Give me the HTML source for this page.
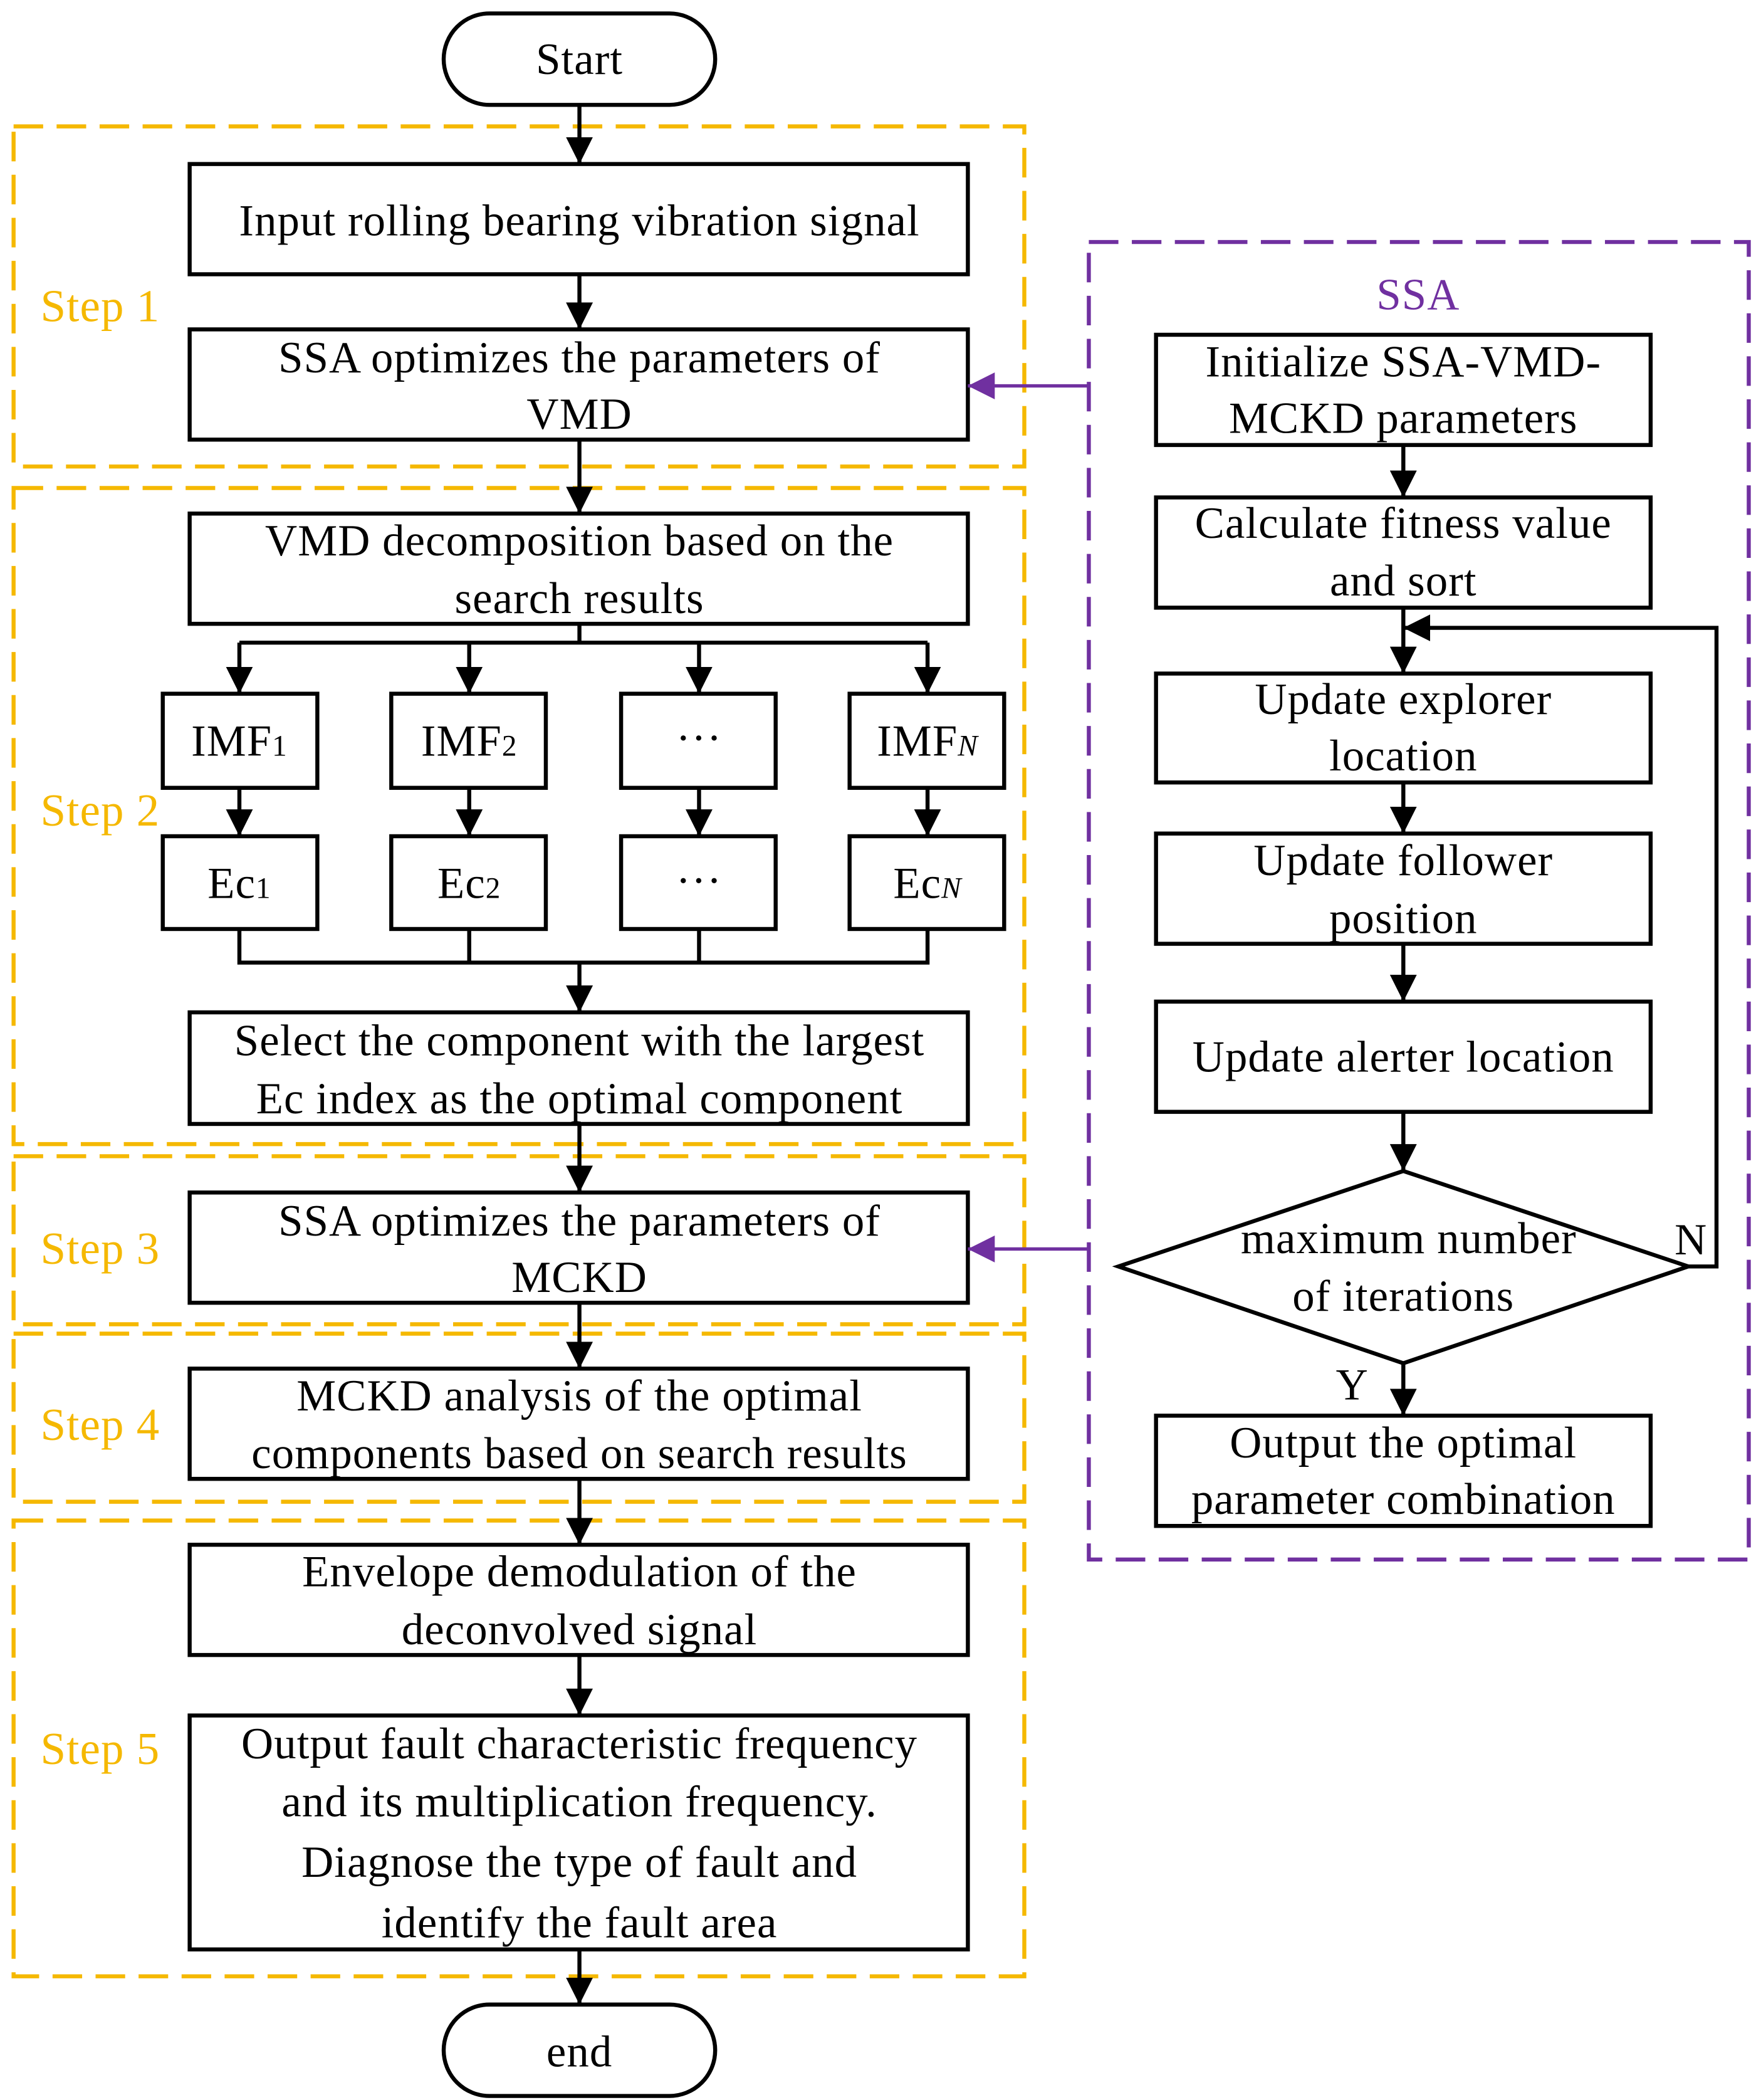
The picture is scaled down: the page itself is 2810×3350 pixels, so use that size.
<!DOCTYPE html>
<html><head><meta charset="utf-8"><style>html,body{margin:0;padding:0;background:#fff}svg{display:block}</style></head><body>
<svg xmlns="http://www.w3.org/2000/svg" width="2810" height="3350" viewBox="0 0 1310 1562" font-family="Liberation Serif, serif" font-size="33" letter-spacing="0.5">
<defs>
<marker id="ab" viewBox="0 0 10 10" markerWidth="20" markerHeight="20" refX="10" refY="5" orient="auto" markerUnits="userSpaceOnUse"><path d="M0,0 L10,5 L0,10 z" fill="#000"/></marker>
<marker id="ap" viewBox="0 0 10 10" markerWidth="20" markerHeight="20" refX="10" refY="5" orient="auto" markerUnits="userSpaceOnUse"><path d="M0,0 L10,5 L0,10 z" fill="#7030a0"/></marker></defs>
<rect width="1310" height="1562" fill="#fff"/>
<g fill="none" stroke="#f5b800" stroke-width="3" stroke-dasharray="22,10">
<rect x="10" y="94" width="752" height="253"/><rect x="10" y="363" width="752" height="488"/>
<rect x="10" y="860" width="752" height="125"/><rect x="10" y="992" width="752" height="125"/>
<rect x="10" y="1131" width="752" height="339"/></g>
<rect x="810" y="180" width="491" height="980" fill="none" stroke="#7030a0" stroke-width="3" stroke-dasharray="22,10"/>
<g fill="#f5b800" font-size="34" letter-spacing="0.5"><text x="30" y="239">Step 1</text><text x="30" y="614">Step 2</text><text x="30" y="940">Step 3</text><text x="30" y="1071">Step 4</text><text x="30" y="1312">Step 5</text></g>
<text x="1055" y="230" fill="#7030a0" text-anchor="middle">SSA</text>
<g stroke="#000" stroke-width="3" fill="none">
<rect x="330" y="10" width="202" height="68" rx="34"/><rect x="330" y="1491" width="202" height="68" rx="34"/>
<rect x="141" y="122" width="579" height="82"/><rect x="141" y="245" width="579" height="82"/>
<rect x="141" y="382" width="579" height="82"/><rect x="141" y="753" width="579" height="83"/>
<rect x="141" y="887" width="579" height="82"/><rect x="141" y="1018" width="579" height="82"/>
<rect x="141" y="1149" width="579" height="82"/><rect x="141" y="1276" width="579" height="174"/>
<rect x="121" y="516" width="115" height="70"/><rect x="291" y="516" width="115" height="70"/><rect x="462" y="516" width="115" height="70"/><rect x="632" y="516" width="115" height="70"/>
<rect x="121" y="622" width="115" height="69"/><rect x="291" y="622" width="115" height="69"/><rect x="462" y="622" width="115" height="69"/><rect x="632" y="622" width="115" height="69"/>
<rect x="860" y="249" width="368" height="82"/><rect x="860" y="370" width="368" height="82"/><rect x="860" y="501" width="368" height="81"/>
<rect x="860" y="620" width="368" height="82"/><rect x="860" y="745" width="368" height="82"/><rect x="860" y="1053" width="368" height="82"/>
<polygon points="832,942 1044,871 1256,942 1044,1014"/>
<g marker-end="url(#ab)">
<line x1="431" y1="78" x2="431" y2="122"/><line x1="431" y1="204" x2="431" y2="245"/><line x1="431" y1="327" x2="431" y2="382"/>
<line x1="178" y1="478" x2="178" y2="516"/><line x1="349" y1="478" x2="349" y2="516"/><line x1="520" y1="478" x2="520" y2="516"/><line x1="690" y1="478" x2="690" y2="516"/>
<line x1="178" y1="586" x2="178" y2="622"/><line x1="349" y1="586" x2="349" y2="622"/><line x1="520" y1="586" x2="520" y2="622"/><line x1="690" y1="586" x2="690" y2="622"/>
<line x1="431" y1="716" x2="431" y2="753"/><line x1="431" y1="836" x2="431" y2="887"/><line x1="431" y1="969" x2="431" y2="1018"/>
<line x1="431" y1="1100" x2="431" y2="1149"/><line x1="431" y1="1231" x2="431" y2="1276"/><line x1="431" y1="1450" x2="431" y2="1491"/>
<line x1="1044" y1="331" x2="1044" y2="370"/><line x1="1044" y1="452" x2="1044" y2="501"/><line x1="1044" y1="582" x2="1044" y2="620"/>
<line x1="1044" y1="702" x2="1044" y2="745"/><line x1="1044" y1="827" x2="1044" y2="871"/><line x1="1044" y1="1014" x2="1044" y2="1053"/>
<polyline points="1256,942 1277,942 1277,467 1044,467"/></g>
<line x1="431" y1="464" x2="431" y2="478"/><line x1="178" y1="478" x2="690" y2="478"/>
<polyline points="178,691 178,716 690,716 690,691"/><line x1="349" y1="691" x2="349" y2="716"/><line x1="520" y1="691" x2="520" y2="716"/>
</g>
<g stroke="#7030a0" stroke-width="2.5" marker-end="url(#ap)"><line x1="810" y1="287" x2="720" y2="287"/><line x1="810" y1="929" x2="720" y2="929"/></g>
<g text-anchor="middle" fill="#000">
<text x="431" y="55">Start</text><text x="431" y="1537">end</text>
<text x="431" y="175">Input rolling bearing vibration signal</text>
<text x="431" y="277">SSA optimizes the parameters of</text><text x="431" y="319">VMD</text>
<text x="431" y="413">VMD decomposition based on the</text><text x="431" y="456">search results</text>
<text x="178" y="562">IMF<tspan font-size="22">1</tspan></text><text x="349" y="562">IMF<tspan font-size="22">2</tspan></text><text x="520" y="560">···</text><text x="690" y="562">IMF<tspan font-size="22" font-style="italic">N</tspan></text>
<text x="178" y="668">Ec<tspan font-size="22">1</tspan></text><text x="349" y="668">Ec<tspan font-size="22">2</tspan></text><text x="520" y="666">···</text><text x="690" y="668">Ec<tspan font-size="22" font-style="italic">N</tspan></text>
<text x="431" y="785">Select the component with the largest</text><text x="431" y="828">Ec index as the optimal component</text>
<text x="431" y="919">SSA optimizes the parameters of</text><text x="431" y="961">MCKD</text>
<text x="431" y="1049">MCKD analysis of the optimal</text><text x="431" y="1092">components based on search results</text>
<text x="431" y="1180">Envelope demodulation of the</text><text x="431" y="1223">deconvolved signal</text>
<text x="431" y="1308">Output fault characteristic frequency</text><text x="431" y="1351">and its multiplication frequency.</text>
<text x="431" y="1396">Diagnose the type of fault and</text><text x="431" y="1441">identify the fault area</text>
<text x="1044" y="280">Initialize SSA-VMD-</text><text x="1044" y="322">MCKD parameters</text>
<text x="1044" y="400">Calculate fitness value</text><text x="1044" y="443">and sort</text>
<text x="1044" y="531">Update explorer</text><text x="1044" y="573">location</text>
<text x="1044" y="651">Update follower</text><text x="1044" y="694">position</text>
<text x="1044" y="797">Update alerter location</text>
<text x="1048" y="932">maximum number</text><text x="1044" y="975">of iterations</text>
<text x="1044" y="1084">Output the optimal</text><text x="1044" y="1126">parameter combination</text>
<text x="1258" y="933">N</text><text x="1006" y="1041">Y</text>
</g>
</svg>
</body></html>
